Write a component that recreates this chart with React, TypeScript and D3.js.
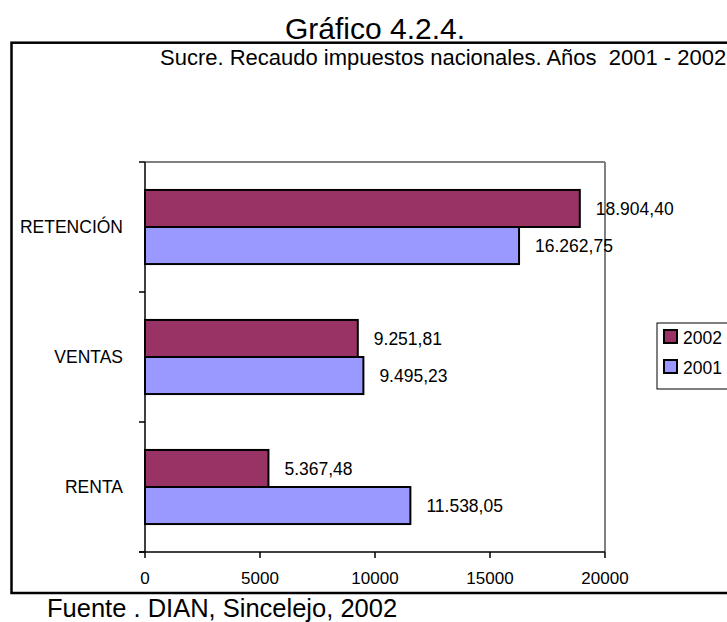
import React from "react";
import * as d3 from "d3";

const categories = ["RETENCIÓN", "VENTAS", "RENTA"];
const series = ["2002", "2001"];
const values2002 = [18904.4, 9251.81, 5367.48];
const values2001 = [16262.75, 9495.23, 11538.05];
const xTicks = [0, 5000, 10000, 15000, 20000];
const colors = ["#993366", "#9999FF"];

const W = 727;
const H = 622;
const FONT = "'Liberation Sans', Arial, sans-serif";

export default function App() {
  const plot = { left: 145, right: 605, top: 162, bottom: 552 };
  const x = d3.scaleLinear().domain([0, 20000]).range([plot.left, plot.right]);
  const y = d3
    .scaleBand<string>()
    .domain(categories)
    .range([plot.top, plot.bottom])
    .paddingInner(0.43)
    .paddingOuter(0.215);
  const ySub = d3.scaleBand<string>().domain(series).range([0, y.bandwidth()]).padding(0);
  const locale = d3.formatLocale({ decimal: ",", thousands: ".", grouping: [3], currency: ["", ""] });
  const fmt = locale.format(",.2f");
  const seriesValues = [values2002, values2001];
  const step = y.step();
  const catTicks = d3.range(categories.length + 1).map((i) => plot.top + i * step);

  return (
    <svg
      width={W}
      height={H}
      style={{ position: "absolute", left: 0, top: 0, background: "#fff" }}
      fontFamily={FONT}
    >
      <rect x={0} y={0} width={W} height={H} fill="#fff" />
      <text x={375} y={39} textAnchor="middle" fontSize={30} fill="#000">
        Gráfico 4.2.4.
      </text>
      <rect x={11.5} y={42.7} width={760} height={550.3} fill="none" stroke="#000" strokeWidth={2.5} />
      <text x={160} y={65} fontSize={22} fill="#000" style={{ whiteSpace: "pre" }}>
        {"Sucre. Recaudo impuestos nacionales. Años  2001 - 2002"}
      </text>

      {/* plot frame */}
      <line x1={plot.left} x2={plot.right} y1={plot.top} y2={plot.top} stroke="#808080" strokeWidth={2} />
      <line x1={plot.right} x2={plot.right} y1={plot.top} y2={plot.bottom} stroke="#808080" strokeWidth={2} />

      {/* bars */}
      {categories.map((c, ci) =>
        series.map((s, si) => {
          const v = seriesValues[si][ci];
          const by = (y(c) as number) + (ySub(s) as number);
          const bh = ySub.bandwidth();
          return (
            <g key={c + s}>
              <rect
                x={x(0)}
                y={by}
                width={x(v) - x(0)}
                height={bh}
                fill={colors[si]}
                stroke="#000"
                strokeWidth={2}
              />
              <text x={x(v) + 16} y={by + bh / 2} dy="0.35em" fontSize={17.5} fill="#000">
                {fmt(v)}
              </text>
            </g>
          );
        })
      )}

      {/* axes */}
      <line x1={plot.left} x2={plot.left} y1={plot.top} y2={plot.bottom} stroke="#000" strokeWidth={1.5} />
      <line x1={plot.left - 6} x2={plot.right} y1={plot.bottom} y2={plot.bottom} stroke="#000" strokeWidth={1.5} />
      {catTicks.map((t, i) => (
        <line key={"ct" + i} x1={plot.left - 6} x2={plot.left} y1={t} y2={t} stroke="#000" strokeWidth={1.5} />
      ))}
      {xTicks.map((t) => (
        <g key={"xt" + t}>
          <line x1={x(t)} x2={x(t)} y1={plot.bottom} y2={plot.bottom + 6} stroke="#000" strokeWidth={1.5} />
          <text x={x(t)} y={584} textAnchor="middle" fontSize={17} fill="#000">
            {String(t)}
          </text>
        </g>
      ))}
      {categories.map((c) => (
        <text
          key={"cl" + c}
          x={123}
          y={(y(c) as number) + y.bandwidth() / 2}
          dy="0.35em"
          textAnchor="end"
          fontSize={17.5}
          fill="#000"
        >
          {c}
        </text>
      ))}

      {/* legend */}
      <rect x={657} y={323} width={100} height={66} fill="#fff" stroke="#000" strokeWidth={1} />
      {series.map((s, i) => (
        <g key={"lg" + s}>
          <rect x={664} y={330 + i * 30} width={13} height={13} fill={colors[i]} stroke="#000" strokeWidth={2} />
          <text x={683} y={344 + i * 30} fontSize={17.5} fill="#000">
            {s}
          </text>
        </g>
      ))}

      <text x={47} y={617} fontSize={25.5} fill="#000">
        Fuente . DIAN, Sincelejo, 2002
      </text>
    </svg>
  );
}
